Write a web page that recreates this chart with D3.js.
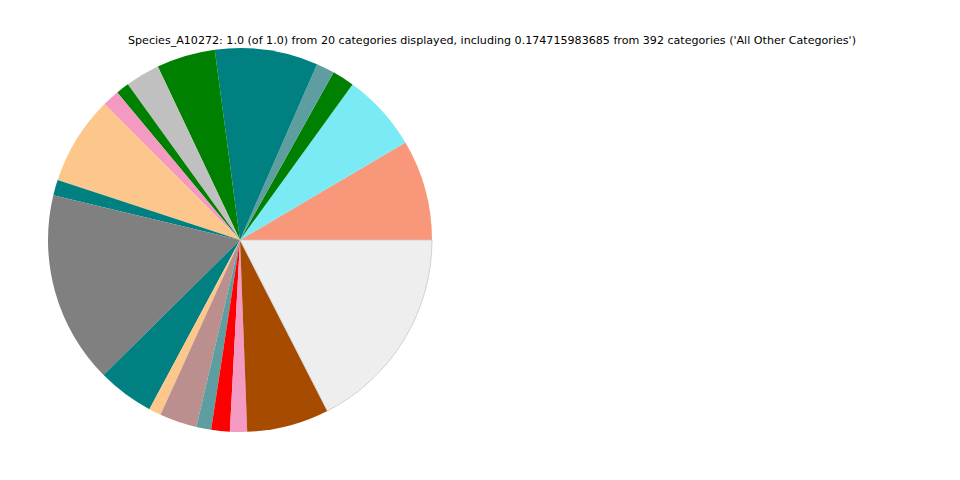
<!DOCTYPE html>
<html>
<head>
<meta charset="utf-8">
<script src="https://cdn.jsdelivr.net/npm/d3@7"></script>
<style>
  body { margin: 0; background: #fff; }
  svg { display: block; }
</style>
</head>
<body>
<svg id="chart" width="960" height="480"></svg>
<script>
const titleText = "Species_A10272: 1.0 (of 1.0) from 20 categories displayed, including 0.174715983685 from 392 categories ('All Other Categories')";

const categories = [
  "Cat 1", "Cat 2", "Cat 3", "Cat 4", "Cat 5", "Cat 6", "Cat 7", "Cat 8", "Cat 9", "Cat 10",
  "Cat 11", "Cat 12", "Cat 13", "Cat 14", "Cat 15", "Cat 16", "Cat 17", "Cat 18", "Cat 19",
  "All Other Categories"
];
const values = [
  0.0847, 0.0656, 0.0186, 0.0153, 0.0867, 0.0494, 0.0289, 0.0111, 0.0142, 0.0747,
  0.0131, 0.1617, 0.0475, 0.0103, 0.0314, 0.0125, 0.0156, 0.0144, 0.0692, 0.174716
];
const colors = [
  "#F89779", "#7AEBF4", "#008000", "#5F9EA0", "#008080", "#008000", "#C0C0C0", "#008000", "#F49AC2", "#FDC68A",
  "#008080", "#808080", "#008080", "#FDC68A", "#BC8F8F", "#5F9EA0", "#FF0000", "#F49AC2", "#A64B00", "#EEEEEE"
];

const data = categories.map((c, i) => ({ name: c, value: values[i], color: colors[i] }));

const svg = d3.select("#chart");
const cx = 240, cy = 240, r = 192;

// matplotlib: start at 3 o'clock, counterclockwise
const pie = d3.pie()
  .value(d => d.value)
  .sort(null)
  .startAngle(Math.PI / 2)
  .endAngle(Math.PI / 2 - 2 * Math.PI);

const arc = d3.arc().innerRadius(0).outerRadius(r);

const g = svg.append("g").attr("transform", `translate(${cx},${cy})`);
g.selectAll("path")
  .data(pie(data))
  .join("path")
  .attr("d", arc)
  .attr("fill", d => d.data.color)
  .attr("stroke", d => d.data.name === "All Other Categories" ? "#c8c8c8" : "none")
  .attr("stroke-width", 0.8);

svg.append("text")
  .attr("x", 492)
  .attr("y", 43.5)
  .attr("text-anchor", "middle")
  .attr("font-family", "DejaVu Sans, sans-serif")
  .attr("font-size", "11.1px")
  .attr("fill", "#000")
  .text(titleText);
</script>
</body>
</html>
